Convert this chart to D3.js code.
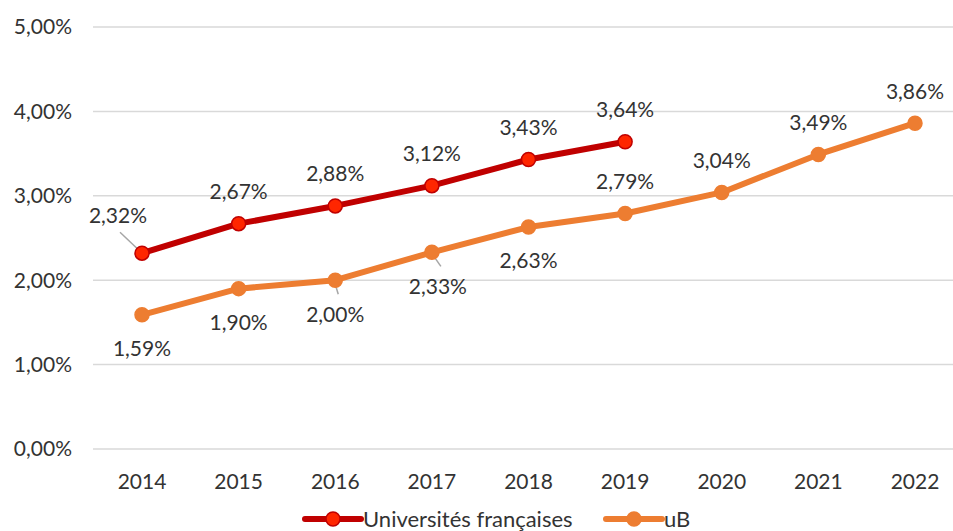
<!DOCTYPE html>
<html>
  <head>
    <meta charset="utf-8">
    <style>
      body { margin: 0; background: #fff; }
      svg text { font-family: Lato, "Open Sans", sans-serif; fill: #333; }
    </style>
  </head>
  <body>
    <div class="chart"></div>
    <script src="https://d3js.org/d3.v7.min.js"></script>
    <script>
      // data
      const years = ["2014", "2015", "2016", "2017", "2018", "2019", "2020", "2021", "2022"];
      const univFr = [2.32, 2.67, 2.88, 3.12, 3.43, 3.64];
      const uB = [1.59, 1.90, 2.00, 2.33, 2.63, 2.79, 3.04, 3.49, 3.86];
      const yTicks = [0, 1, 2, 3, 4, 5];
      const seriesNames = ["Universités françaises", "uB"];

      // label placement (above / below) per point
      const univFrPlace = ["left", "above", "above", "above", "above", "above"];
      const uBPlace = ["below", "below", "belowLeader", "belowRight", "below", "above", "above", "above", "above"];

      const W = 953, H = 531;
      const fs = 21;
      const fmt = v => d3.format(".2f")(v).replace(".", ",") + "%";

      const x = d3.scalePoint().domain(years).range([142, 915]);
      const y = d3.scaleLinear().domain([0, 5]).range([449, 27]);

      const svg = d3.select(".chart").append("svg")
        .attr("width", W).attr("height", H);

      // gridlines
      svg.append("g").selectAll("line")
        .data(yTicks).enter().append("line")
        .attr("x1", 93).attr("x2", W)
        .attr("y1", d => y(d)).attr("y2", d => y(d))
        .attr("stroke", "#d9d9d9").attr("stroke-width", 1.5);

      // y labels
      svg.append("g").selectAll("text")
        .data(yTicks).enter().append("text")
        .attr("x", 72).attr("y", d => y(d)).attr("dy", "0.35em")
        .attr("text-anchor", "end").attr("font-size", fs)
        .text(d => fmt(d));

      // x labels
      svg.append("g").selectAll("text")
        .data(years).enter().append("text")
        .attr("x", d => x(d)).attr("y", 482)
        .attr("dy", "0.35em")
        .attr("text-anchor", "middle").attr("font-size", fs)
        .text(d => d);

      const line = d3.line().x(d => x(d.year)).y(d => y(d.v));

      function drawSeries(vals, place, color, fill, markerStroke) {
        const pts = vals.map((v, i) => ({ year: years[i], v, place: place[i] }));
        const g = svg.append("g");
        // leader lines
        pts.forEach(p => {
          const px = x(p.year), py = y(p.v);
          let seg = null;
          if (p.place === "left") seg = [px - 22, py - 21, px - 3, py - 3];
          else if (p.place === "belowRight") seg = [px + 2, py + 4, px + 9, py + 14];
          else if (p.place === "belowLeader") seg = [px, py + 4, px + 3, py + 14];
          if (seg) {
            g.append("line").attr("x1", seg[0]).attr("y1", seg[1])
              .attr("x2", seg[2]).attr("y2", seg[3])
              .attr("stroke", "#a6a6a6").attr("stroke-width", 1.5);
          }
        });
        g.append("path").datum(pts).attr("d", line)
          .attr("fill", "none").attr("stroke", color)
          .attr("stroke-width", 6).attr("stroke-linejoin", "round").attr("stroke-linecap", "round");
        g.selectAll("circle").data(pts).enter().append("circle")
          .attr("cx", d => x(d.year)).attr("cy", d => y(d.v)).attr("r", 7)
          .attr("fill", fill).attr("stroke", markerStroke).attr("stroke-width", 1.5);
        g.selectAll("text").data(pts).enter().append("text")
          .attr("font-size", fs).attr("text-anchor", "middle")
          .attr("x", d => {
            const px = x(d.year);
            if (d.place === "left") return px - 24;
            if (d.place === "belowRight") return px + 6;
            return px;
          })
          .attr("y", d => {
            const py = y(d.v);
            if (d.place === "left") return py - 38;
            if (d.place === "above") return py - 32;
            return py + 34;
          })
          .attr("dy", "0.35em")
          .text(d => fmt(d.v));
      }

      drawSeries(uB, uBPlace, "#ed7d31", "#ed7d31", "#ed7d31");
      drawSeries(univFr, univFrPlace, "#c00000", "#ff2600", "#c00000");

      // legend
      const legend = svg.append("g").attr("transform", "translate(0,519)");
      const items = [
        { name: seriesNames[0], color: "#c00000", fill: "#ff2600", x0: 305, w: 56 },
        { name: seriesNames[1], color: "#ed7d31", fill: "#ed7d31", x0: 606, w: 56 }
      ];
      items.forEach(it => {
        legend.append("line").attr("x1", it.x0).attr("x2", it.x0 + it.w)
          .attr("y1", 0).attr("y2", 0).attr("stroke", it.color)
          .attr("stroke-width", 6).attr("stroke-linecap", "round");
        legend.append("circle").attr("cx", it.x0 + it.w / 2).attr("cy", 0).attr("r", 7)
          .attr("fill", it.fill).attr("stroke", it.color).attr("stroke-width", 1.5);
        legend.append("text").attr("x", it.x0 + it.w + 2).attr("y", 0).attr("dy", "0.35em")
          .attr("font-size", 22).text(it.name);
      });
    </script>
  </body>
</html>
